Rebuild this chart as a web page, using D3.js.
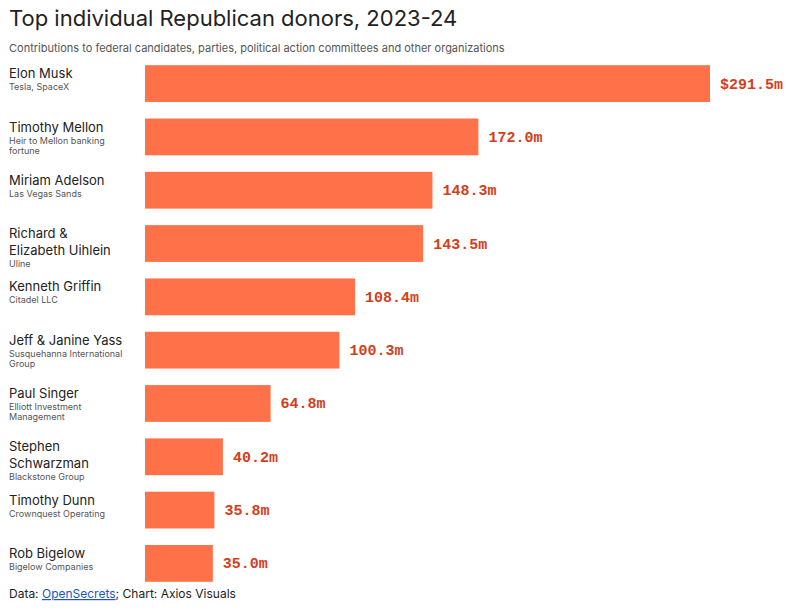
<!DOCTYPE html>
<html><head><meta charset="utf-8">
<script src="https://cdn.jsdelivr.net/npm/d3@7"></script>
<style>
body{margin:0;background:#fff;font-family:Inter,"Noto Sans",sans-serif;}
</style></head>
<body><svg id="chart" width="800" height="616"></svg>
<script>
// donor names, employer lines, totals in $ millions
var names = [["Elon Musk"],["Timothy Mellon"],["Miriam Adelson"],["Richard &","Elizabeth Uihlein"],["Kenneth Griffin"],["Jeff & Janine Yass"],["Paul Singer"],["Stephen","Schwarzman"],["Timothy Dunn"],["Rob Bigelow"]];
var subs = [["Tesla, SpaceX"],["Heir to Mellon banking","fortune"],["Las Vegas Sands"],["Uline"],["Citadel LLC"],["Susquehanna International","Group"],["Elliott Investment","Management"],["Blackstone Group"],["Crownquest Operating"],["Bigelow Companies"]];
var values = [291.5,172.0,148.3,143.5,108.4,100.3,64.8,40.2,35.8,35.0];
var valueLabels = ["$291.5m","172.0m","148.3m","143.5m","108.4m","100.3m","64.8m","40.2m","35.8m","35.0m"];

var svg = d3.select("#chart");

svg.append("text").attr("x",9).attr("y",26).attr("font-size",22).attr("fill","#222")
  .text("Top individual Republican donors, 2023-24");
svg.append("text").attr("x",9).attr("y",52).attr("font-size",11).attr("fill","#555")
  .text("Contributions to federal candidates, parties, political action committees and other organizations");

var x = d3.scaleLinear().domain([0,291.5]).range([145,710]);
var y = d3.scaleBand().domain(d3.range(values.length)).range([58,589]).paddingInner(0.31).paddingOuter(0.135);

var row = svg.selectAll("g.row").data(values).enter().append("g").attr("class","row");

row.append("rect").attr("x",x(0)).attr("y",function(d,i){return y(i);})
  .attr("width",function(d){return x(d)-x(0);}).attr("height",y.bandwidth()).attr("fill","#ff7148");

row.append("text").attr("x",function(d){return x(d)+10;})
  .attr("y",function(d,i){return y(i)+y.bandwidth()/2+5;})
  .attr("font-family","'Liberation Mono','DejaVu Sans Mono',monospace").attr("font-size",15).attr("font-weight","bold")
  .attr("fill","#d2401b").text(function(d,i){return valueLabels[i];});

row.each(function(d,i){
  var g = d3.select(this);
  var top = y(i)+13;
  names[i].forEach(function(n,k){
    g.append("text").attr("x",9).attr("y",top+k*17).attr("font-size",13).attr("fill","#222").text(n);
  });
  var sy = top + (names[i].length-1)*17 + 12;
  subs[i].forEach(function(s,k){
    g.append("text").attr("x",9).attr("y",sy+k*10).attr("font-size",9).attr("fill","#555").text(s);
  });
});

var foot = svg.append("text").attr("x",9).attr("y",598).attr("font-size",12).attr("fill","#222");
foot.append("tspan").text("Data: ");
foot.append("tspan").attr("fill","#1a55c8").attr("text-decoration","underline").text("OpenSecrets");
foot.append("tspan").text("; Chart: Axios Visuals");
</script></body></html>
